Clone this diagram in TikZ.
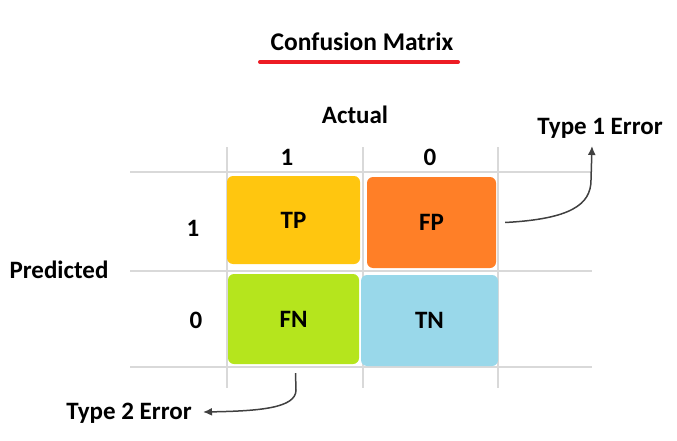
\documentclass[tikz,border=0pt]{standalone}
\usepackage{fontspec}
\setmainfont{Carlito}
\usepackage{xcolor}
\usetikzlibrary{calc, positioning, arrows.meta}

\definecolor{cellyellow}{HTML}{FFC60F}
\definecolor{cellorange}{HTML}{FF7F27}
\definecolor{cellgreen}{HTML}{B5E51D}
\definecolor{cellblue}{HTML}{99D8EA}
\definecolor{gridgray}{HTML}{D9D9D9}
\definecolor{arrowgray}{HTML}{404040}
\definecolor{titlered}{HTML}{ED1C24}

\tikzset{
  cell/.style={rounded corners=6pt, inner sep=0pt},
  lbl/.style={font=\bfseries\fontsize{25}{30}\selectfont},
  errarrow/.style={-{Latex[length=9pt,width=8pt]}, line width=1.5pt, draw=arrowgray}
}

\begin{document}
\begin{tikzpicture}[x=1pt, y=-1pt]
  \useasboundingbox (0,0) rectangle (677,441);

  % title
  \node[font=\bfseries\fontsize{25.5}{30}\selectfont] (title) at (362,42) {Confusion Matrix};
  \draw[titlered, line width=4pt, line cap=round] (260,62) -- (458,62);

  % grid
  \foreach \y in {172,271,367}
    \draw[gridgray, line width=1.2pt] (130,\y) -- (592,\y);
  \foreach \x in {227,363,498}
    \draw[gridgray, line width=1.2pt] (\x,147) -- (\x,388);

  % cells
  \node[cell, fill=cellyellow, minimum width=133pt, minimum height=88pt, lbl] (tp) at (293.5,220) {TP};
  \node[cell, fill=cellorange, minimum width=129pt, minimum height=91pt, lbl] (fp) at (431.5,222.5) {FP};
  \node[cell, fill=cellgreen, minimum width=131pt, minimum height=90pt, lbl] (fn) at (293.5,319) {FN};
  \node[cell, fill=cellblue, minimum width=137pt, minimum height=91pt, lbl] (tn) at (429.5,320.5) {TN};

  % headers
  \node[lbl] (actual) at (355,115) {Actual};
  \node[lbl] (act1) at (287,157) {1};
  \node[lbl] (act0) at (430,157) {0};
  \node[lbl] (predicted) at (59,270) {Predicted};
  \node[lbl] (pred1) at (193,228) {1};
  \node[lbl] (pred0) at (196,320) {0};

  % errors
  \node[lbl] (type1) at (600,128) {Type 1 Error};
  \node[lbl] (type2) at (129,413) {Type 2 Error};
  \coordinate (t1tip) at (592,146);
  \coordinate (t2tip) at (203,412);

  \draw[errarrow] ($(fp.east)+(9,0)$) .. controls (570,219) and (591,205) .. (591,180) -- (t1tip);
  \draw[errarrow] ($(fn.south)+(2,9)$) -- (296,390) .. controls (296,408) and (260,411) .. (t2tip);
\end{tikzpicture}
\end{document}
